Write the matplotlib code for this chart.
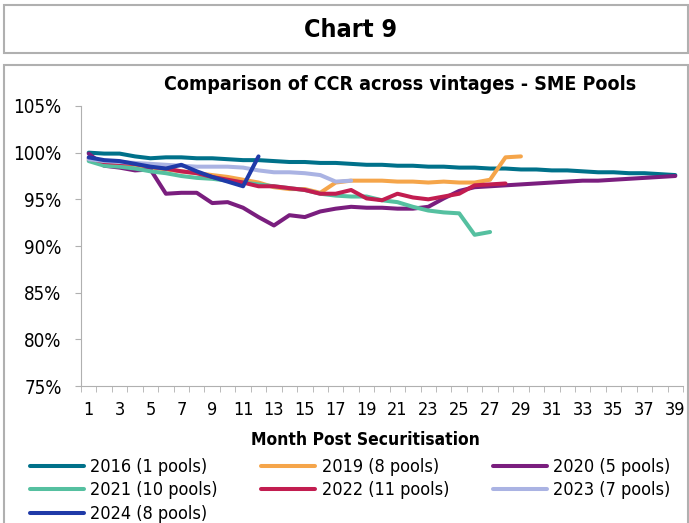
import matplotlib.pyplot as plt
import matplotlib.patches as patches
from matplotlib.ticker import FixedLocator, FuncFormatter

plt.rcParams['font.family'] = ['DejaVu Sans']
plt.rcParams['font.stretch'] = 'condensed'

# 데이터 (CCR, %)
months = list(range(1, 40))
y2016 = [100.0, 99.9, 99.9, 99.6, 99.4, 99.5, 99.5, 99.4, 99.4, 99.3,
         99.2, 99.2, 99.1, 99.0, 99.0, 98.9, 98.9, 98.8, 98.7, 98.7,
         98.6, 98.6, 98.5, 98.5, 98.4, 98.4, 98.3, 98.3, 98.2, 98.2,
         98.1, 98.1, 98.0, 97.9, 97.9, 97.8, 97.8, 97.7, 97.6]
y2019 = [99.2, 98.9, 98.8, 98.6, 98.4, 98.2, 98.0, 97.8, 97.6, 97.4,
         97.1, 96.8, 96.3, 96.1, 96.1, 95.7, 96.8, 97.0, 97.0, 97.0,
         96.9, 96.9, 96.8, 96.9, 96.8, 96.8, 97.1, 99.5, 99.6]
y2020 = [99.9, 98.6, 98.4, 98.1, 98.2, 95.6, 95.7, 95.7, 94.6, 94.7,
         94.1, 93.1, 92.2, 93.3, 93.1, 93.7, 94.0, 94.2, 94.1, 94.1,
         94.0, 94.0, 94.2, 95.1, 95.9, 96.3, 96.4, 96.5, 96.6, 96.7,
         96.8, 96.9, 97.0, 97.0, 97.1, 97.2, 97.3, 97.4, 97.5]
y2021 = [99.1, 98.6, 98.5, 98.3, 98.0, 97.8, 97.5, 97.3, 97.2, 97.0,
         96.8, 96.6, 96.4, 96.2, 96.0, 95.6, 95.4, 95.3, 95.3, 94.9,
         94.7, 94.2, 93.8, 93.6, 93.5, 91.2, 91.5]
y2022 = [99.4, 99.0, 98.9, 98.8, 98.5, 98.3, 98.0, 97.8, 97.4, 97.1,
         96.8, 96.4, 96.4, 96.2, 96.0, 95.6, 95.6, 96.0, 95.1, 94.9,
         95.6, 95.2, 95.0, 95.3, 95.6, 96.5, 96.6, 96.7]
y2023 = [99.3, 99.1, 99.0, 98.9, 98.8, 98.7, 98.6, 98.5, 98.5, 98.5,
         98.4, 98.1, 97.9, 97.9, 97.8, 97.6, 96.9, 97.0]
y2024 = [99.5, 99.2, 99.1, 98.8, 98.5, 98.3, 98.7, 98.0, 97.4, 96.9,
         96.4, 99.6]

series = [
    ('2016 (1 pools)', y2016, '#00718a'),
    ('2019 (8 pools)', y2019, '#f5a54a'),
    ('2020 (5 pools)', y2020, '#7a1e7e'),
    ('2021 (10 pools)', y2021, '#55c0a0'),
    ('2022 (11 pools)', y2022, '#c21d50'),
    ('2023 (7 pools)', y2023, '#aab3e3'),
    ('2024 (8 pools)', y2024, '#1f3aa8'),
]

W, H = 689, 523
fig = plt.figure(figsize=(W / 100, H / 100), dpi=100)

# 바깥 상자 두 개 (제목 상자, 차트 상자)
box1 = patches.Rectangle((4 / W, 1 - 53 / H), 0.999 - 4 / W, 48 / H,
                         transform=fig.transFigure, facecolor='none',
                         edgecolor='#b0b0b0', linewidth=1.5)
box2 = patches.Rectangle((4 / W, -0.01), 0.999 - 4 / W, 1 - 65 / H + 0.01,
                         transform=fig.transFigure, facecolor='none',
                         edgecolor='#b0b0b0', linewidth=1.5)
fig.patches.extend([box1, box2])

fig.text(350 / W, 1 - 30 / H, 'Chart 9', ha='center', va='center',
         fontsize=18, fontweight='bold')

ax = fig.add_axes([81 / W, 1 - 386 / H, (683 - 81) / W, (386 - 106) / H])

for label, vals, color in series:
    ax.plot(months[:len(vals)], vals, color=color, linewidth=2.9,
            label=label, solid_capstyle='round', solid_joinstyle='round')

ax.set_xlim(0.5, 39.5)
ax.set_ylim(75, 105)
ax.set_yticks([75, 80, 85, 90, 95, 100, 105])
ax.yaxis.set_major_formatter(FuncFormatter(lambda v, p: f'{v:.0f}%'))
ax.set_xticks(range(1, 40, 2))
ax.xaxis.set_minor_locator(FixedLocator([m + 0.5 for m in range(0, 40)]))
ax.tick_params(axis='x', which='major', length=0, pad=11, labelsize=13)
ax.tick_params(axis='x', which='minor', length=4, color='#b0b0b0')
ax.tick_params(axis='y', length=4, color='#b0b0b0', labelsize=13.5, pad=10)

for s in ['top', 'right']:
    ax.spines[s].set_visible(False)
for s in ['left', 'bottom']:
    ax.spines[s].set_color('#b0b0b0')

fig.text(400 / W, 1 - 85 / H, 'Comparison of CCR across vintages - SME Pools',
         ha='center', va='center', fontsize=14, fontweight='bold')
fig.text(365 / W, 1 - 440 / H, 'Month Post Securitisation',
         ha='center', va='center', fontsize=12.5, fontweight='bold')

# 범례: 엑셀처럼 행 우선 순서로 배치
handles, labels = ax.get_legend_handles_labels()
order = [0, 3, 6, 1, 4, 2, 5]
fig.legend([handles[i] for i in order], [labels[i] for i in order],
           loc='upper left', ncol=3,
           bbox_to_anchor=(30 / W, 1 - 458 / H), frameon=False,
           fontsize=13, handlelength=3.0, handletextpad=0.35,
           columnspacing=2.4, labelspacing=0.3, borderaxespad=0,
           borderpad=0)

fig.savefig('out.png', dpi=100)
